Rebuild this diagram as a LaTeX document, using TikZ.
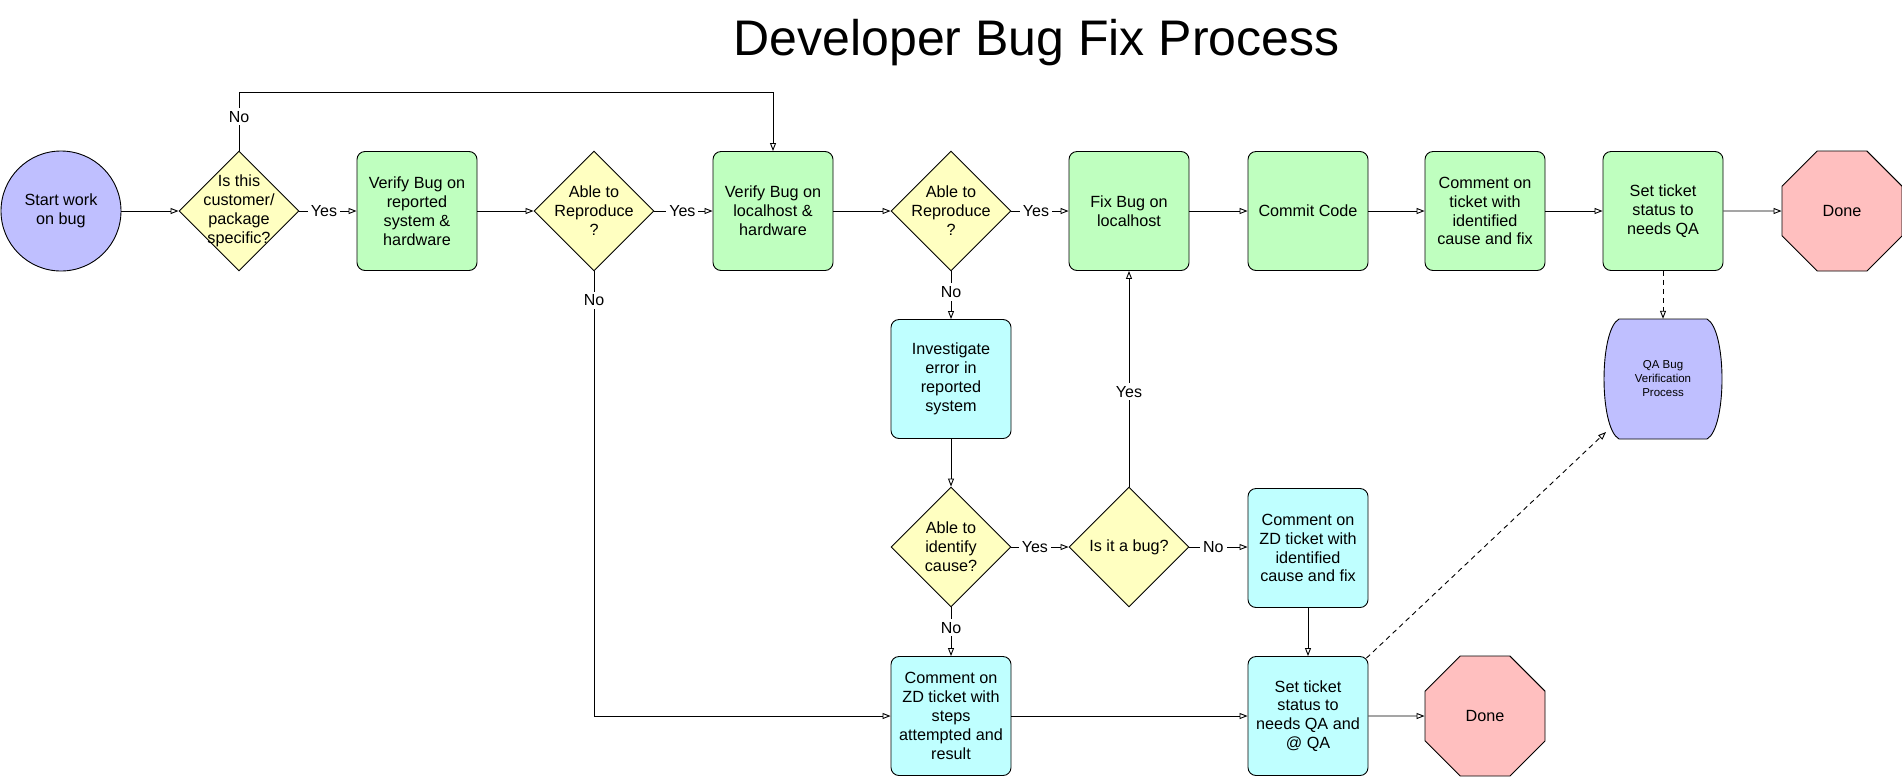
\documentclass[tikz,border=0pt]{standalone}
\usepackage{fontspec}
\setmainfont{Liberation Sans}
\usetikzlibrary{shapes.geometric,arrows.meta}
\definecolor{cpurple}{RGB}{191,191,255}
\definecolor{cgreen}{RGB}{191,255,191}
\definecolor{cyellow}{RGB}{255,255,193}
\definecolor{ccyan}{RGB}{191,255,255}
\definecolor{cred}{RGB}{255,191,191}
\begin{document}
\begin{tikzpicture}[x=1pt,y=-1pt,
  every node/.style={font=\fontsize{16.2}{18.9}\selectfont, align=center, inner sep=0pt},
  box/.style={draw, rounded corners=8pt, minimum width=120pt, minimum height=119pt, line width=0.9pt},
  gbox/.style={box, fill=cgreen},
  cbox/.style={box, fill=ccyan},
  dia/.style={draw, diamond, minimum width=120pt, minimum height=120pt, fill=cyellow, line width=0.9pt},
  oct/.style={draw, fill=cred, regular polygon, regular polygon sides=8, minimum size=129.9pt, line width=0.9pt},
  startnode/.style={draw, circle, fill=cpurple, minimum size=120pt, line width=0.9pt},
  lbl/.style={fill=white, inner sep=3pt, font=\fontsize{16}{18}\selectfont},
  arr/.style={line width=0.9pt, -{Triangle[open, length=8pt, width=6pt]}},
  dsh/.style={dash pattern=on 5pt off 4pt}
]
\useasboundingbox (0,0) rectangle (1902,777);
\fill[white] (0,0) rectangle (1902,777);

\node[font=\fontsize{50}{60}\selectfont, anchor=base] (title) at (1036.5,55) {Developer Bug Fix Process};

% Row 1
\node[startnode] (start) at (61,211) {Start work\\on bug};
\node[dia] (d1) at (239,211) {};
\node (d1t) at (239,211) {Is this\\customer/\\package\\specific?};
\node[gbox] (b1) at (417,211) {Verify Bug on\\reported\\system \&\\hardware};
\node[dia] (d2) at (594,211) {};
\node (d2t) at (594,211) {Able to\\Reproduce\\?};
\node[gbox] (b2) at (773,211) {Verify Bug on\\localhost \&\\hardware};
\node[dia] (d3) at (951,211) {};
\node (d3t) at (951,211) {Able to\\Reproduce\\?};
\node[gbox] (fix) at (1129,211) {Fix Bug on\\localhost};
\node[gbox] (commit) at (1308,211) {Commit Code};
\node[gbox] (cmt) at (1485,211) {Comment on\\ticket with\\identified\\cause and fix};
\node[gbox] (setqa) at (1663,211) {Set ticket\\status to\\needs QA};
\node[oct] (done1) at (1842,211) {Done};

% Row 2
\node[cbox] (inv) at (951,379) {Investigate\\error in\\reported\\system};
\draw[fill=cpurple, line width=0.9pt] (1619,319) -- (1707,319)
  .. controls (1727,330) and (1727,428) .. (1707,439) -- (1619,439)
  .. controls (1599,428) and (1599,330) .. (1619,319) -- cycle;
\node[minimum width=120pt, minimum height=120pt, font=\fontsize{11.5}{14}\selectfont] (qa) at (1663,379) {QA Bug\\Verification\\Process};
\coordinate (qaend) at (1606,432);

% Row 3
\node[dia] (d4) at (951,547) {};
\node (d4t) at (951,547) {Able to\\identify\\cause?};
\node[dia] (d5) at (1129,547) {};
\node (d5t) at (1129,547) {Is it a bug?};
\node[cbox] (zd) at (1308,548) {Comment on\\ZD ticket with\\identified\\cause and fix};

% Row 4
\node[cbox] (steps) at (951,716) {Comment on\\ZD ticket with\\steps\\attempted and\\result};
\node[cbox] (sq) at (1308,716) {Set ticket\\status to\\needs QA and\\@ QA};
\node[oct] (done2) at (1485,716) {Done};

\coordinate (topline) at (0,92);

% Connectors
\draw[arr] (start) -- (d1);
\draw[arr] (d1) -- node[lbl,pos=0.43]{Yes} (b1);
\draw[arr] (d1.north) -- node[lbl,pos=0.58]{No} (d1.north |- topline) -| (b2.north);
\draw[arr] (b1) -- (d2);
\draw[arr] (d2) -- node[lbl,pos=0.48]{Yes} (b2);
\draw[arr] (d2.south) -- node[lbl,pos=0.065]{No} (d2.south |- steps.west) -- (steps.west);
\draw[arr] (b2) -- (d3);
\draw[arr] (d3) -- node[lbl,pos=0.43]{Yes} (fix);
\draw[arr] (d3) -- node[lbl,pos=0.43]{No} (inv);
\draw[arr] (fix) -- (commit);
\draw[arr] (commit) -- (cmt);
\draw[arr] (cmt) -- (setqa);
\draw[arr] (setqa) -- (done1);
\draw[arr,dsh] (setqa) -- (qa);
\draw[arr] (inv) -- (d4);
\draw[arr] (d4) -- node[lbl,pos=0.41]{Yes} (d5);
\draw[arr] (d4) -- node[lbl,pos=0.42]{No} (steps);
\draw[arr] (d5) -- node[lbl,pos=0.44]{Yes} (fix);
\draw[arr] (d5.east) -- node[lbl,pos=0.41]{No} (zd.west |- d5.east);
\draw[arr] (zd) -- (sq);
\draw[arr] (steps) -- (sq);
\draw[arr] (sq) -- (done2);
\draw[arr,dsh] ([shift={(-2,2)}]sq.north east) -- (qaend);
\end{tikzpicture}
\end{document}
